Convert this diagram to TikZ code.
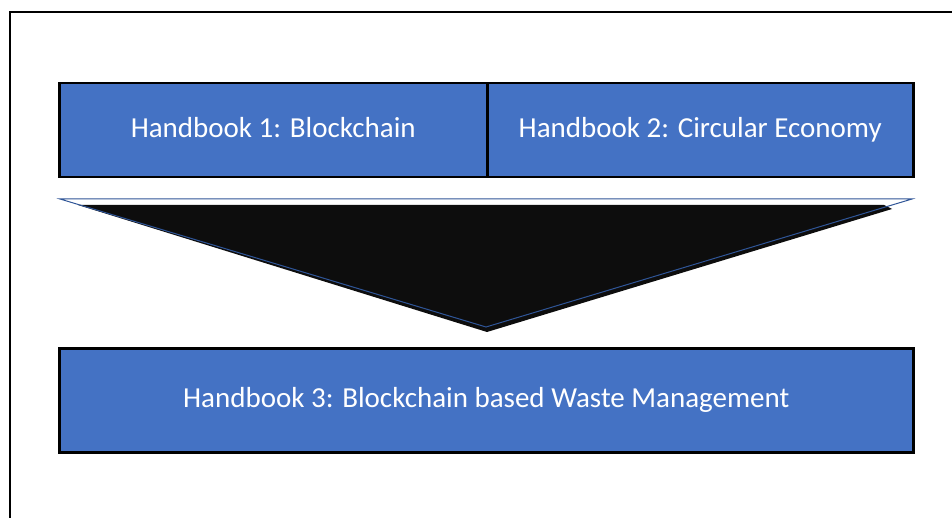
\documentclass[tikz,border=0pt]{standalone}
\usepackage{fontspec}
\setmainfont{Carlito}
\definecolor{boxblue}{HTML}{4472C4}
\definecolor{edgeblue}{HTML}{2F5597}
\begin{document}
\begin{tikzpicture}[x=1pt,y=-1pt,
  hbox/.style={draw=black,line width=2.5pt,fill=boxblue,text=white,
    font=\fontsize{29}{34}\selectfont,inner sep=0pt,anchor=north west,
    text height=20pt,text depth=6pt}]
\useasboundingbox (0,0) rectangle (952,518);
% outer frame (top and left edges)
\draw[line width=1.3pt] (952,12) -- (10,12) -- (10,518);
% top handbooks
\node[hbox,minimum width=428pt,minimum height=94pt] (h1) at (58,82) {Handbook 1: Blockchain};
\node[hbox,minimum width=426pt,minimum height=94pt] (h2) at (486,82) {Handbook 2: Circular Economy};
% merging funnel
\coordinate (tl) at (60,199);
\coordinate (tr) at (912,199);
\coordinate (tip) at (486,327);
\fill[black!95] (78,205) -- (884,205) -- (892,209) -- (487,332) -- cycle;
\draw[edgeblue,line width=1pt] (tl) -- (tr) -- (tip) -- cycle;
% resulting handbook
\node[hbox,minimum width=854pt,minimum height=104pt] (h3) at (58,347) {Handbook 3: Blockchain based Waste Management};
\end{tikzpicture}
\end{document}
